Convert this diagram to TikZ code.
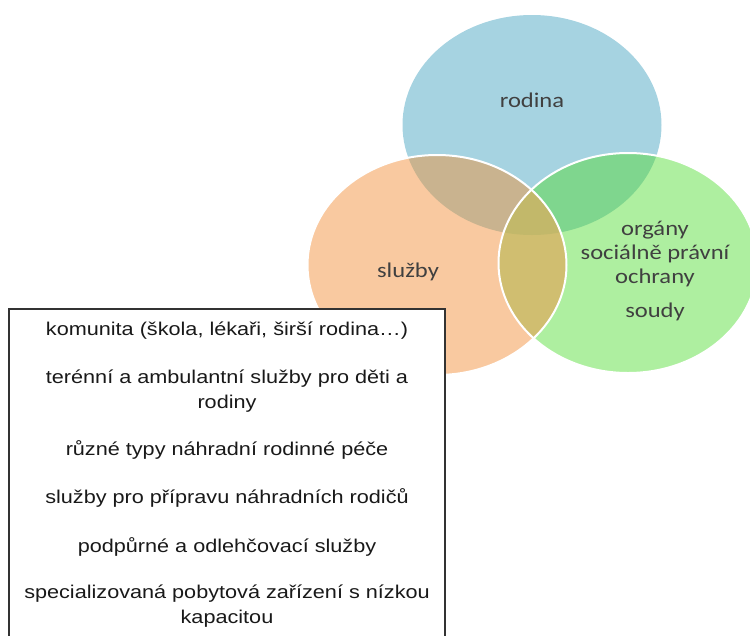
\documentclass[tikz,border=0pt]{standalone}
\usepackage{fontspec}
\setmainfont{Liberation Sans}
\newfontfamily\vennfont{Carlito}
\usetikzlibrary{positioning}
\definecolor{rodinaBlue}{HTML}{A6D3E1}
\definecolor{sluzbyOrange}{HTML}{F9C9A0}
\definecolor{ospodGreen}{HTML}{AEEFA0}
\definecolor{mixBO}{HTML}{C9B38F}
\definecolor{mixBG}{HTML}{7FD68E}
\definecolor{mixOG}{HTML}{D0BE70}
\definecolor{mixAll}{HTML}{C2B86A}
\definecolor{labelGray}{HTML}{404040}

\begin{document}
\begin{tikzpicture}[x=1pt,y=-1pt]
  \tikzset{
    venn/.style={x radius=129.5pt,y radius=110pt},
    stretched/.style={xscale=1.17,transform shape},
    setlabel/.style={stretched,text=labelGray,font=\vennfont\fontsize{21}{24}\selectfont,align=center,inner sep=0pt,anchor=base},
    listitem/.style={stretched,text=black!90,font=\fontsize{18.5}{25}\selectfont,align=center,inner sep=0pt,anchor=base},
    rim/.style={draw=white,line width=2pt}
  }
  \clip (0,0) rectangle (750,635);
  \coordinate (cB) at (532,125);
  \coordinate (cO) at (437,265);
  \coordinate (cG) at (628,263);
  % the three sets
  \fill[rodinaBlue] (cB) ellipse[venn];
  \fill[sluzbyOrange] (cO) ellipse[venn];
  \fill[ospodGreen] (cG) ellipse[venn];
  \begin{scope}
    \clip (cB) ellipse[venn];
    \fill[mixBO] (cO) ellipse[venn];
    \fill[mixBG] (cG) ellipse[venn];
  \end{scope}
  \begin{scope}
    \clip (cO) ellipse[venn];
    \fill[mixOG] (cG) ellipse[venn];
    \clip (cB) ellipse[venn];
    \fill[mixAll] (cG) ellipse[venn];
  \end{scope}
  \draw[rim] (cO) ellipse[venn];
  \draw[rim] (cG) ellipse[venn];
  % base of a multi-line node = its last line
  \node[setlabel] (rodina) at (532,107) {rodina};
  \node[setlabel] (sluzby) at (408,277) {služby};
  \node[setlabel] (ospod) at (655,283) {orgány\\sociálně právní\\ochrany};
  \node[setlabel] (soudy) at (655,317) {soudy};
  % list of services
  \draw[draw=black!80,line width=1.3pt,fill=white] (9,309) rectangle (445,645);
  \node[listitem] (komunita) at (227,335) {komunita (škola, lékaři, širší rodina…)};
  \node[listitem] (terenni) at (227,408) {terénní a ambulantní služby pro děti a\\rodiny};
  \node[listitem] (nrp) at (227,455) {různé typy náhradní rodinné péče};
  \node[listitem] (priprava) at (227,503) {služby pro přípravu náhradních rodičů};
  \node[listitem] (odlehceni) at (227,552) {podpůrné a odlehčovací služby};
  \node[listitem] (zarizeni) at (227,623) {specializovaná pobytová zařízení s nízkou\\kapacitou};
\end{tikzpicture}
\end{document}
